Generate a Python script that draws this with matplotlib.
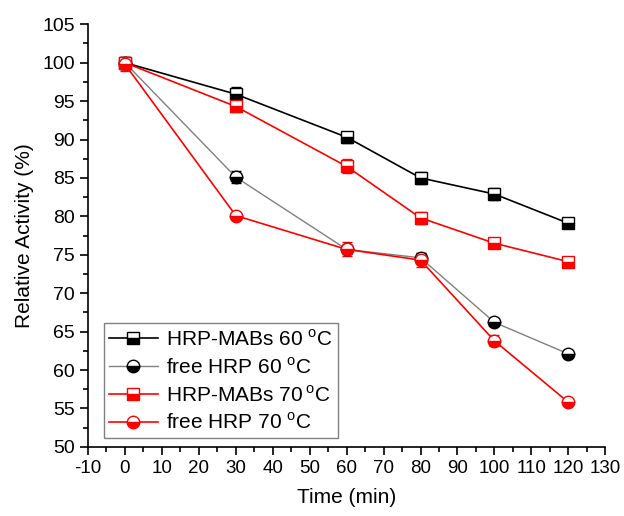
import matplotlib
matplotlib.use('Agg')
import matplotlib.pyplot as plt
from matplotlib.ticker import MultipleLocator

plt.rcParams['font.family'] = ['Liberation Sans', 'DejaVu Sans']
plt.rcParams['mathtext.fontset'] = 'custom'
plt.rcParams['mathtext.rm'] = 'Liberation Sans'
plt.rcParams['axes.unicode_minus'] = False

time = [0, 30, 60, 80, 100, 120]

mabs_60 = [100, 95.9, 90.3, 85.0, 82.9, 79.1]
mabs_60_err = [0.8, 0.9, 0.7, 0.8, 0.8, 0.4]
free_60 = [100, 85.1, 75.7, 74.6, 66.2, 62.1]
free_60_err = [0.6, 0.8, 0.6, 0.6, 0.4, 0.3]
mabs_70 = [100, 94.3, 86.5, 79.8, 76.5, 74.1]
mabs_70_err = [0.6, 0.7, 0.9, 0.8, 0.4, 0.3]
free_70 = [99.8, 80.1, 75.7, 74.3, 63.8, 55.8]
free_70_err = [0.9, 0.4, 0.9, 0.9, 0.7, 0.3]

labels = ['HRP-MABs 60 $^{\\rm o}$C', 'free HRP 60 $^{\\rm o}$C',
          'HRP-MABs 70$\\,^{\\rm o}$C', 'free HRP 70 $^{\\rm o}$C']

fig = plt.figure(figsize=(6.24, 5.16), dpi=100)
ax = fig.add_axes([0.141, 0.134, 0.829, 0.819])

series = [
    (mabs_60, mabs_60_err, 's', 'black', 'black', 1.2),
    (free_60, free_60_err, 'o', 'gray', 'black', 1.0),
    (mabs_70, mabs_70_err, 's', 'red', 'red', 1.2),
    (free_70, free_70_err, 'o', 'red', 'red', 1.2),
]

handles = []
for (y, err, mk, lc, mc, lw), lab in zip(series, labels):
    c = ax.errorbar(time, y, yerr=err, color=lc, lw=lw, ecolor=mc, elinewidth=0.8,
                    capsize=3.5, capthick=0.8, marker=mk,
                    markersize=8 if mk == 's' else 9, fillstyle='bottom',
                    markerfacecolor=mc, markerfacecoloralt='white',
                    markeredgecolor=mc, markeredgewidth=1.0)
    c.lines[0].set_label(lab)
    handles.append(c.lines[0])

ax.set_xlim(-10, 130)
ax.set_ylim(50, 105)
ax.xaxis.set_major_locator(MultipleLocator(10))
ax.xaxis.set_minor_locator(MultipleLocator(5))
ax.yaxis.set_major_locator(MultipleLocator(5))
ax.yaxis.set_minor_locator(MultipleLocator(2.5))
ax.spines['top'].set_visible(False)
ax.spines['right'].set_visible(False)
for s in ['left', 'bottom']:
    ax.spines[s].set_linewidth(1.2)
ax.tick_params(which='major', direction='out', length=6, width=1.2, labelsize=14)
ax.tick_params(axis='x', which='major', labelsize=13.5)
ax.tick_params(which='minor', direction='out', length=3.5, width=1.2)

ax.set_xlabel('Time (min)', fontsize=15, labelpad=8)
ax.set_ylabel('Relative Activity (%)', fontsize=15, labelpad=6)

leg = ax.legend(handles=handles, loc='lower left', bbox_to_anchor=(0.03, 0.02),
                fontsize=15, fancybox=False, edgecolor='gray', framealpha=1,
                handlelength=2.35, handletextpad=0.4, labelspacing=0.35,
                borderpad=0.25, borderaxespad=0)
leg.get_frame().set_linewidth(1.0)

fig.savefig('out.png', dpi=100)
